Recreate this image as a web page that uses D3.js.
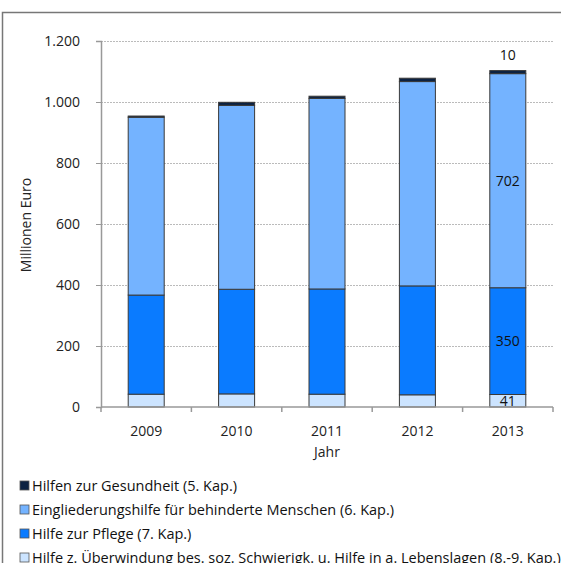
<!DOCTYPE html>
<html><head><meta charset="utf-8">
<script src="https://cdn.jsdelivr.net/npm/d3@7"></script>
<style>body{margin:0;background:#fff}svg{display:block}text{font-family:"Open Sans","DejaVu Sans",sans-serif}</style>
</head><body><svg id="c" width="561" height="563"></svg>
<script>
const years = ["2009","2010","2011","2012","2013"];
const seriesNames = [
  "Hilfe z. Überwindung bes. soz. Schwierigk. u. Hilfe in a. Lebenslagen (8.-9. Kap.)",
  "Hilfe zur Pflege (7. Kap.)",
  "Eingliederungshilfe für behinderte Menschen (6. Kap.)",
  "Hilfen zur Gesundheit (5. Kap.)"
];
const ueberwindung = [42, 43, 42, 40, 41];
const pflege = [325, 343, 345, 357, 350];
const eingliederung = [583, 603, 625, 670, 702];
const gesundheit = [4, 10, 7, 11, 10];
const yTicks = [0, 200, 400, 600, 800, 1000, 1200];
const colors = ["#cce4ff", "#0a7bff", "#74b3ff", "#0c2242"];
const legendOrder = [3, 2, 1, 0];

const svg = d3.select("#c");
const xb = d3.scaleBand().domain(years).range([101, 553]);
const y = d3.scaleLinear().domain([0, 1200]).range([407, 41]);
const fmt = v => d3.format(",")(v).replace(/,/g, ".");

// frame
svg.append("path").attr("d", "M2.5,563 V12.5 H561").attr("fill","none").attr("stroke","#777").attr("stroke-width",1.5);

// gridlines
svg.append("g").selectAll("line").data(yTicks.filter(d=>d>0)).join("line")
  .attr("x1",101).attr("x2",553).attr("y1",d=>Math.round(y(d))+0.5).attr("y2",d=>Math.round(y(d))+0.5)
  .attr("stroke","#bbb").attr("stroke-dasharray","2,1");

// stacked data
const rows = years.map((yr,i)=>({year:yr, s0:ueberwindung[i], s1:pflege[i], s2:eingliederung[i], s3:gesundheit[i]}));
const stack = d3.stack().keys(["s0","s1","s2","s3"])(rows);
const bw = 36;
svg.append("g").selectAll("g").data(stack).join("g").attr("fill",(d,i)=>colors[i])
  .selectAll("rect").data(d=>d).join("rect")
  .attr("x", d=>xb(d.data.year)+xb.bandwidth()/2-bw/2)
  .attr("width", bw)
  .attr("y", d=>y(d[1]))
  .attr("height", d=>y(d[0])-y(d[1]))
  .attr("stroke","#3a3a3a").attr("stroke-width",1);

// axes
const yAxis = svg.append("g").attr("transform","translate(101,0)")
  .call(d3.axisLeft(y).tickValues(yTicks).tickSize(5).tickPadding(16).tickFormat(fmt));
yAxis.select(".domain").attr("stroke","#999").attr("stroke-width",1.5);
yAxis.selectAll(".tick line").attr("stroke","#999");
yAxis.selectAll("text").attr("font-size",14).attr("fill","#222");

const xAxisG = svg.append("g").attr("transform","translate(0,407)");
xAxisG.append("line").attr("x1",101).attr("x2",553).attr("stroke","#999").attr("stroke-width",1.5);
xAxisG.selectAll("line.t").data(years.concat(["end"])).join("line").attr("class","t")
  .attr("x1",(d,i)=>i<5?xb(d):553).attr("x2",(d,i)=>i<5?xb(d):553).attr("y1",0).attr("y2",5).attr("stroke","#999").attr("stroke-width",1.5);
xAxisG.selectAll("text").data(years).join("text")
  .attr("x",d=>xb(d)+xb.bandwidth()/2).attr("y",29).attr("text-anchor","middle")
  .attr("font-size",14).attr("fill","#222").text(d=>d);

svg.append("text").attr("x",327).attr("y",457).attr("text-anchor","middle").attr("font-size",14).attr("fill","#222").text("Jahr");
svg.append("text").attr("transform","translate(31,225) rotate(-90)").attr("text-anchor","middle").attr("font-size",14).attr("fill","#222").text("Millionen Euro");

// labels for 2013
const last = rows[4];
const cx = xb("2013")+xb.bandwidth()/2;
const lbl = [
  {v:last.s0, yv:(0+last.s0)/2},
  {v:last.s1, yv:last.s0+last.s1/2},
  {v:last.s2, yv:last.s0+last.s1+last.s2/2},
];
svg.append("g").selectAll("text").data(lbl).join("text")
  .attr("x",cx).attr("y",d=>y(d.yv)).attr("dy","0.35em").attr("text-anchor","middle")
  .attr("font-size",14).attr("fill","#111").text(d=>d.v);
svg.append("text").attr("x",cx).attr("y",y(last.s0+last.s1+last.s2+last.s3)-11).attr("text-anchor","middle")
  .attr("font-size",14).attr("fill","#111").text(last.s3);

// legend
const lg = svg.append("g").selectAll("g").data(legendOrder).join("g")
  .attr("transform",(d,i)=>`translate(20,${481+i*24})`);
lg.append("rect").attr("width",9).attr("height",9).attr("fill",d=>colors[d]).attr("stroke","#555").attr("stroke-width",0.8);
lg.append("text").attr("x",12).attr("y",9.5).attr("font-size",14.5).attr("fill","#111").text(d=>seriesNames[d]);
</script></body></html>
